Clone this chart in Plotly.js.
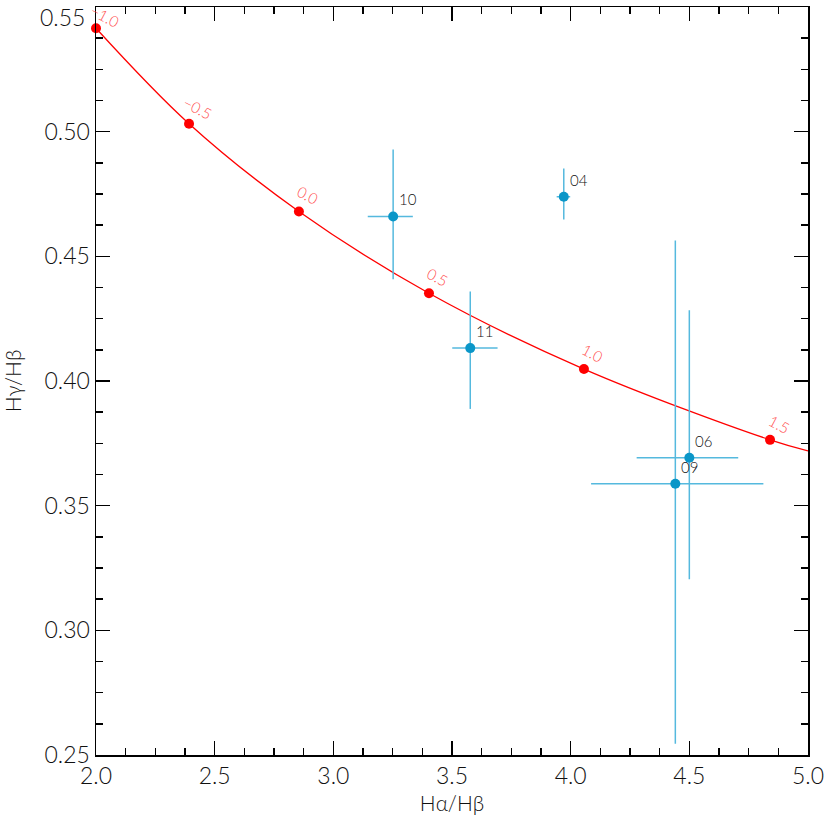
<!DOCTYPE html>
<html>
<head>
<meta charset="utf-8">
<script src="https://cdn.plot.ly/plotly-3.0.1.min.js"></script>
<style>
  html, body { margin: 0; padding: 0; background: #fff; }
  #chart { width: 830px; height: 830px; }
</style>
</head>
<body>
<div id="chart"></div>
<script>
'use strict';

// extinction curve (red), labelled points
var curveX = [2.0, 2.392, 2.855, 3.403, 4.056, 4.840];
var curveY = [0.5415, 0.5032, 0.468, 0.4352, 0.4048, 0.3764];
var curveLabels = ['\u22121.0', '\u22120.5', '0.0', '0.5', '1.0', '1.5'];
// where the curve leaves the plot on the right
var curveEndX = [5.0];
var curveEndY = [0.372];

// measured ratios (blue)
var objNames = ['10', '04', '11', '06', '09'];
var objX = [3.252, 3.971, 3.577, 4.500, 4.441];
var objY = [0.466, 0.4739, 0.4132, 0.3692, 0.3588];
var objXErrPlus = [0.083, 0.027, 0.115, 0.206, 0.371];
var objXErrMinus = [0.107, 0.030, 0.076, 0.222, 0.355];
var objYErrPlus = [0.0268, 0.0113, 0.0227, 0.0592, 0.0976];
var objYErrMinus = [0.0252, 0.0091, 0.0244, 0.0487, 0.1043];

// tick labels (top y label is nudged down inside the page, drawn separately)
var xTicks = [2.0, 2.5, 3.0, 3.5, 4.0, 4.5, 5.0];
var xTickText = ['2.0', '2.5', '3.0', '3.5', '4.0', '4.5', '5.0'];
var yTicks = [0.25, 0.30, 0.35, 0.40, 0.45, 0.50, 0.55];
var yTickText = ['0.25', '0.30', '0.35', '0.40', '0.45', '0.50', ''];
var yTopTick = 0.55;
var yTopText = '0.55';

var fontFamily = 'Lato, "Liberation Sans", sans-serif';
var red = '#ff0000';
var blue = '#0a96c8';
var blueErr = '#55b9de';

function axisStyle(range, tickvals, ticktext, minorDtick, title) {
  return {
    range: range,
    tickmode: 'array',
    tickvals: tickvals,
    ticktext: ticktext,
    ticks: 'inside',
    ticklen: 14,
    tickwidth: 1.5,
    tickcolor: '#000',
    minor: { ticks: 'inside', tick0: range[0], dtick: minorDtick, ticklen: 7, tickwidth: 1.5, tickcolor: '#000', showgrid: false },
    showline: true,
    linecolor: '#000',
    linewidth: 1.5,
    mirror: 'ticks',
    showgrid: false,
    zeroline: false,
    tickfont: { family: fontFamily, size: 23, color: '#111', weight: 300 },
    title: { text: title, font: { family: fontFamily, size: 21, color: '#111', weight: 300 } }
  };
}

var lineTrace = {
  x: curveX.concat(curveEndX),
  y: curveY.concat(curveEndY),
  mode: 'lines',
  line: { color: red, width: 1.3, shape: 'spline' },
  hoverinfo: 'skip',
  showlegend: false
};

var dotTrace = {
  x: curveX,
  y: curveY,
  mode: 'markers',
  marker: { color: red, size: 10 },
  showlegend: false,
  cliponaxis: false
};

var objTrace = {
  x: objX,
  y: objY,
  mode: 'markers',
  marker: { color: blue, size: 10 },
  error_x: { type: 'data', symmetric: false, array: objXErrPlus, arrayminus: objXErrMinus, color: blueErr, thickness: 1.5, width: 0 },
  error_y: { type: 'data', symmetric: false, array: objYErrPlus, arrayminus: objYErrMinus, color: blueErr, thickness: 1.5, width: 0 },
  showlegend: false
};

var annotations = [];
for (var i = 0; i < curveX.length; i++) {
  annotations.push({
    x: curveX[i], y: curveY[i], xref: 'x', yref: 'y',
    text: curveLabels[i], showarrow: false,
    textangle: 28, xshift: 9, yshift: i === 0 ? 12 : 16,
    font: { family: fontFamily, size: 15, color: '#ff5050', weight: 300 }
  });
}
for (var j = 0; j < objNames.length; j++) {
  annotations.push({
    x: objX[j], y: objY[j], xref: 'x', yref: 'y',
    text: objNames[j], showarrow: false,
    xanchor: 'left', yanchor: 'bottom', xshift: 4, yshift: 6,
    font: { family: fontFamily, size: 15, color: '#111', weight: 300 }
  });
}
annotations.push({
  x: 0, y: yTopTick, xref: 'paper', yref: 'y',
  text: yTopText, showarrow: false,
  xanchor: 'right', yanchor: 'middle', xshift: -9, yshift: -10,
  font: { family: fontFamily, size: 23, color: '#111', weight: 300 }
});

var layout = {
  width: 830,
  height: 830,
  margin: { l: 96, r: 22, t: 7, b: 75 },
  paper_bgcolor: '#fff',
  plot_bgcolor: '#fff',
  xaxis: axisStyle([2.0, 5.0], xTicks, xTickText, 0.125, 'H\u03b1/H\u03b2'),
  yaxis: axisStyle([0.25, 0.55], yTicks, yTickText, 0.0125, 'H\u03b3/H\u03b2'),
  annotations: annotations
};
layout.xaxis.title.standoff = 8;
layout.yaxis.title.standoff = 18;

Plotly.newPlot('chart', [lineTrace, dotTrace, objTrace], layout, { staticPlot: true });
</script>
</body>
</html>
